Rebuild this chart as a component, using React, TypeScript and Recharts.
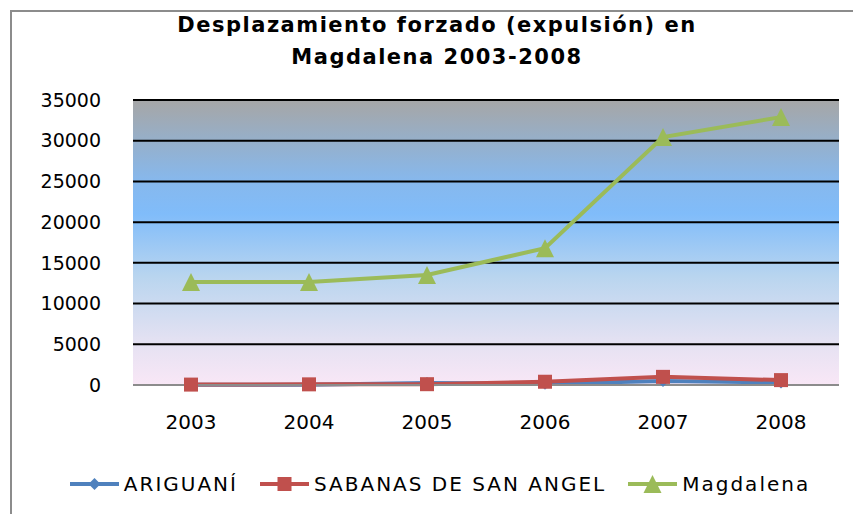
import React from "react";
import {
  LineChart,
  Line,
  XAxis,
  YAxis,
  CartesianGrid,
} from "recharts";

const years = ["2003", "2004", "2005", "2006", "2007", "2008"];
const ariguani = [20, 30, 250, 150, 500, 300];
const sabanas = [50, 80, 100, 400, 1000, 600];
const magdalena = [12650, 12650, 13500, 16800, 30450, 32900];
const yTicks = [0, 5000, 10000, 15000, 20000, 25000, 30000, 35000];

const BLUE = "#4f81bd";
const RED = "#c0504d";
const GREEN = "#9bbb59";
const FONT = "'DejaVu Sans', Verdana, sans-serif";

const data = years.map((y, i) => ({
  year: y,
  ariguani: ariguani[i],
  sabanas: sabanas[i],
  magdalena: magdalena[i],
}));

const Diamond = (props: any) => {
  const { cx, cy, size = 6 } = props;
  if (cx == null || cy == null) return null;
  return (
    <polygon
      points={`${cx},${cy - size} ${cx + size},${cy} ${cx},${cy + size} ${cx - size},${cy}`}
      fill={BLUE}
    />
  );
};

const Square = (props: any) => {
  const { cx, cy, size = 7 } = props;
  if (cx == null || cy == null) return null;
  return <rect x={cx - size} y={cy - size} width={size * 2} height={size * 2} fill={RED} />;
};

const Triangle = (props: any) => {
  const { cx, cy, size = 9 } = props;
  if (cx == null || cy == null) return null;
  return (
    <polygon
      points={`${cx},${cy - size} ${cx + size},${cy + size} ${cx - size},${cy + size}`}
      fill={GREEN}
    />
  );
};

const legendItems = [
  { name: "ARIGUANÍ", color: BLUE, Icon: Diamond },
  { name: "SABANAS DE SAN ANGEL", color: RED, Icon: Square },
  { name: "Magdalena", color: GREEN, Icon: Triangle },
];

const ChartLegend = () => (
  <div
    style={{
      position: "absolute",
      left: 0,
      top: 472,
      width: 880,
      display: "flex",
      justifyContent: "center",
      alignItems: "center",
      gap: 22,
      fontFamily: FONT,
      fontSize: 20,
      letterSpacing: 2,
      color: "#000",
    }}
  >
    {legendItems.map((it) => (
      <div key={it.name} style={{ display: "flex", alignItems: "center" }}>
        <svg width={49} height={24} style={{ marginRight: 5 }}>
          <line x1={0} y1={12} x2={49} y2={12} stroke={it.color} strokeWidth={4} />
          <it.Icon cx={24.5} cy={12} />
        </svg>
        <span>{it.name}</span>
      </div>
    ))}
  </div>
);

export default function App() {
  return (
    <div
      style={{
        position: "absolute",
        left: 0,
        top: 0,
        width: 853,
        height: 514,
        background: "#fff",
        overflow: "hidden",
      }}
    >
      <div
        style={{
          position: "absolute",
          left: 10,
          top: 10,
          width: 860,
          height: 520,
          border: "2px solid #8c8c8c",
          boxSizing: "border-box",
        }}
      />
      <div
        style={{
          position: "absolute",
          left: 0,
          width: 874,
          top: 9,
          textAlign: "center",
          fontFamily: FONT,
          fontWeight: "bold",
          fontSize: 21,
          letterSpacing: 1.5,
          lineHeight: "32px",
          color: "#000",
        }}
      >
        Desplazamiento forzado (expulsión) en
        <br />
        Magdalena 2003-2008
      </div>
      <LineChart
        width={853}
        height={514}
        data={data}
        margin={{ top: 100, right: 14, bottom: 99, left: 33 }}
        style={{ position: "absolute", left: 0, top: 0 }}
      >
        <defs>
          <linearGradient id="plotBg" x1="0" y1="0" x2="0" y2="1">
            <stop offset="0%" stopColor="#a6a6a6" />
            <stop offset="28%" stopColor="#87b8ec" />
            <stop offset="40%" stopColor="#80bcfa" />
            <stop offset="62%" stopColor="#b9d5ef" />
            <stop offset="84%" stopColor="#e3e1f2" />
            <stop offset="100%" stopColor="#f9e7f6" />
          </linearGradient>
        </defs>
        <CartesianGrid
          vertical={false}
          stroke="#000"
          strokeWidth={2}
          fill="url(#plotBg)"
          horizontalValues={[5000, 10000, 15000, 20000, 25000, 30000, 35000]}
        />
        <XAxis
          dataKey="year"
          padding={{ left: 58, right: 58 }}
          axisLine={{ stroke: "#8c8c8c", strokeWidth: 2 }}
          tickLine={false}
          tickMargin={24}
          tick={{ fill: "#000", fontSize: 20, fontFamily: FONT }}
        />
        <YAxis
          width={100}
          domain={[0, 35000]}
          ticks={yTicks}
          axisLine={false}
          tickLine={false}
          tickMargin={26}
          tick={{ fill: "#000", fontSize: 19, fontFamily: FONT }}
        />
        <Line
          dataKey="ariguani"
          name="ARIGUANÍ"
          stroke={BLUE}
          strokeWidth={4}
          dot={<Diamond />}
          activeDot={false}
          isAnimationActive={false}
        />
        <Line
          dataKey="sabanas"
          name="SABANAS DE SAN ANGEL"
          stroke={RED}
          strokeWidth={4}
          dot={<Square />}
          activeDot={false}
          isAnimationActive={false}
        />
        <Line
          dataKey="magdalena"
          name="Magdalena"
          stroke={GREEN}
          strokeWidth={4}
          dot={<Triangle />}
          activeDot={false}
          isAnimationActive={false}
        />
      </LineChart>
      <ChartLegend />
    </div>
  );
}
